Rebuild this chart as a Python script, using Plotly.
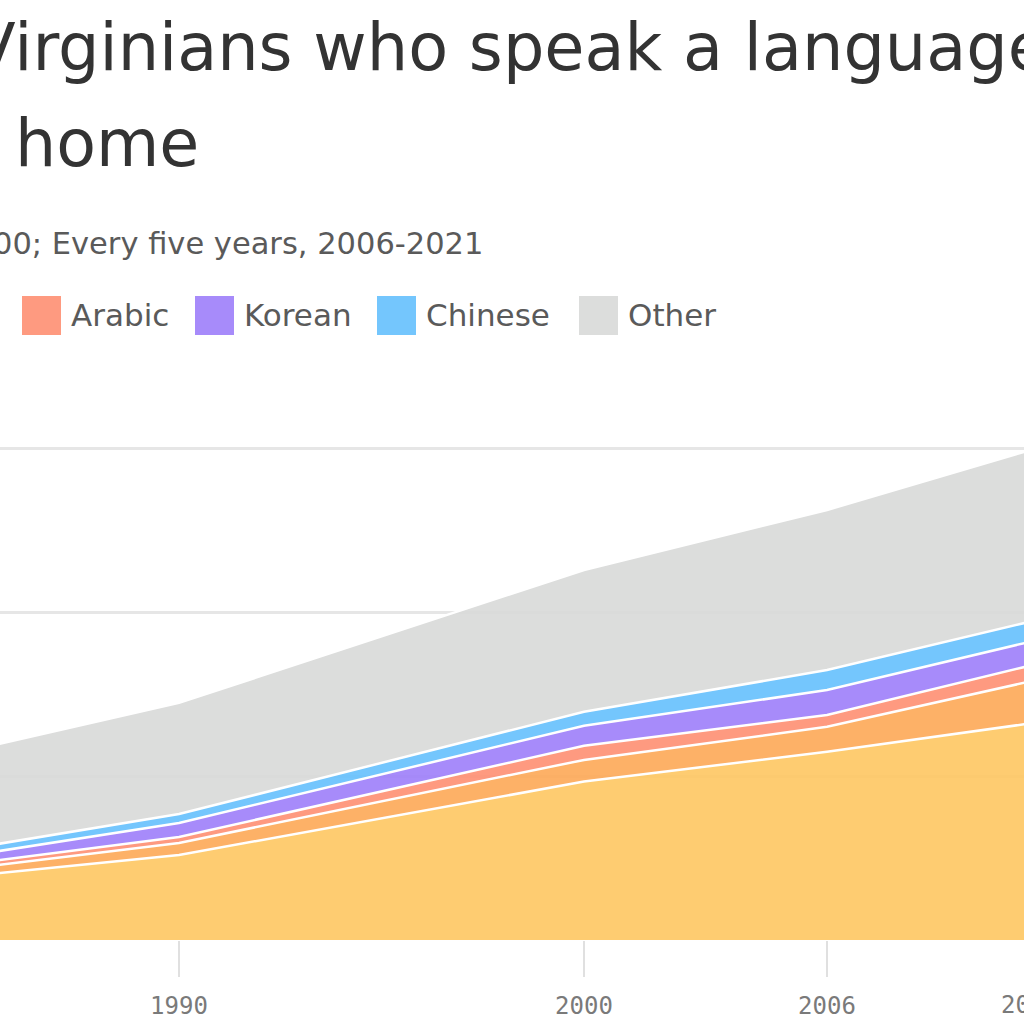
import plotly.graph_objects as go

# ---------------- data ----------------
years = [1980, 1990, 2000, 2006, 2011, 2016, 2021]
languages = ["Spanish", "Vietnamese", "Arabic", "Korean", "Chinese", "Other"]
spanish = [1.35, 2.59, 4.83, 5.74, 6.60, 7.00, 7.40]
vietnamese = [0.10, 0.37, 0.66, 0.76, 1.28, 1.35, 1.40]
arabic = [0.11, 0.18, 0.43, 0.36, 0.48, 0.55, 0.60]
korean = [0.08, 0.43, 0.61, 0.76, 0.73, 0.72, 0.70]
chinese = [0.16, 0.27, 0.43, 0.61, 0.61, 0.65, 0.70]
other = [2.62, 3.39, 4.32, 4.88, 5.23, 5.40, 5.60]
y_ticks = [0, 5, 10, 15]
x_ticks = [1980, 1990, 2000, 2006, 2011, 2016, 2021]
x_tick_labels = [str(v) for v in x_ticks]

title_line1 = "Virginians who speak a language other than English"
title_line2 = "at home"
subtitle = "Share of population; Every decade, 1980-2000; Every five years, 2006-2021"

# ---------------- styles ----------------
colors = ["#FECC72", "#FDB168", "#FE9A80", "#A78BFA", "#74C6FD", "#DCDDDC"]
ALPHA = 0.9


def visible_to_rgba(hexcol, a=ALPHA):
    h = hexcol.lstrip("#")
    rgb = [int(h[i:i + 2], 16) for i in (0, 2, 4)]
    base = [max(0, min(255, round((c - 255 * (1 - a)) / a))) for c in rgb]
    return f"rgba({base[0]},{base[1]},{base[2]},{a})"


W, H = 1024, 1024
ML, MR, MT, MB = 0, 0, 284, 84
PLOT_W = W - ML - MR
PLOT_H = H - MT - MB
X_RANGE = [1985.58, 2010.864]
Y_RANGE = [0, 20]


def px_x(px):
    return (px - ML) / PLOT_W


def px_y(py):
    return (H - MB - py) / PLOT_H


series = [spanish, vietnamese, arabic, korean, chinese, other]

fig = go.Figure()
for name, vals, col in zip(languages, series, colors):
    fig.add_trace(go.Scatter(
        x=years, y=vals, name=name, mode="lines", stackgroup="one",
        line=dict(color="white", width=2.5), fillcolor=visible_to_rgba(col),
        showlegend=False, hoverinfo="x+y+name",
    ))

TEXT_FONT = "DejaVu Sans, sans-serif"
TICK_FONT = "DejaVu Sans Mono, monospace"
annotations = [
    dict(text=title_line1, x=px_x(-31), y=px_y(47), xref="paper", yref="paper",
         xanchor="left", yanchor="middle", showarrow=False,
         font=dict(family=TEXT_FONT, size=65.3, color="#333333")),
    dict(text=title_line2, x=px_x(201), y=px_y(143), xref="paper", yref="paper",
         xanchor="right", yanchor="middle", showarrow=False,
         font=dict(family=TEXT_FONT, size=65, color="#333333")),
    dict(text=subtitle, x=px_x(485), y=px_y(243), xref="paper", yref="paper",
         xanchor="right", yanchor="middle", showarrow=False,
         font=dict(family=TEXT_FONT, size=30.5, color="#5a5a5a")),
    # partially visible tick label beyond the right edge of the plot
    dict(text="2011", x=(2011 - X_RANGE[0]) / (X_RANGE[1] - X_RANGE[0]), y=px_y(1005),
         xref="paper", yref="paper", xanchor="center", yanchor="middle", showarrow=False,
         font=dict(family=TICK_FONT, size=24, color="#7a7a7a")),
]

# legend (manual, square swatches)
legend_swatch_px = [-450, -250, 22, 195, 377, 579]
shapes = []
for name, col, sx in zip(languages, colors, legend_swatch_px):
    shapes.append(dict(type="rect", xref="paper", yref="paper",
                       x0=px_x(sx), x1=px_x(sx + 39), y0=px_y(335), y1=px_y(296),
                       fillcolor=col, line=dict(width=0)))
    annotations.append(dict(text=name, x=px_x(sx + 47), y=px_y(315), xref="paper", yref="paper",
                            xanchor="left", yanchor="middle", showarrow=False,
                            font=dict(family=TEXT_FONT, size=31, color="#5a5a5a")))

fig.update_layout(
    width=W, height=H,
    margin=dict(l=ML, r=MR, t=MT, b=MB, pad=0),
    paper_bgcolor="white", plot_bgcolor="white",
    showlegend=False,
    annotations=annotations, shapes=shapes,
    xaxis=dict(range=X_RANGE, tickvals=x_ticks, ticktext=x_tick_labels,
               ticks="outside", ticklen=36, tickwidth=2, tickcolor="#e0e0e0",
               ticklabelstandoff=8,
               showgrid=False, zeroline=False, showline=False,
               tickfont=dict(family=TICK_FONT, size=24, color="#7a7a7a")),
    yaxis=dict(range=Y_RANGE, tickvals=y_ticks, showticklabels=False,
               showgrid=True, gridcolor="#e6e6e6", gridwidth=3,
               zeroline=False, showline=False),
)

fig.write_html(
    "out.html",
    config={"displayModeBar": False},
    post_script="document.body.style.margin='0';document.body.style.overflow='hidden';",
)
